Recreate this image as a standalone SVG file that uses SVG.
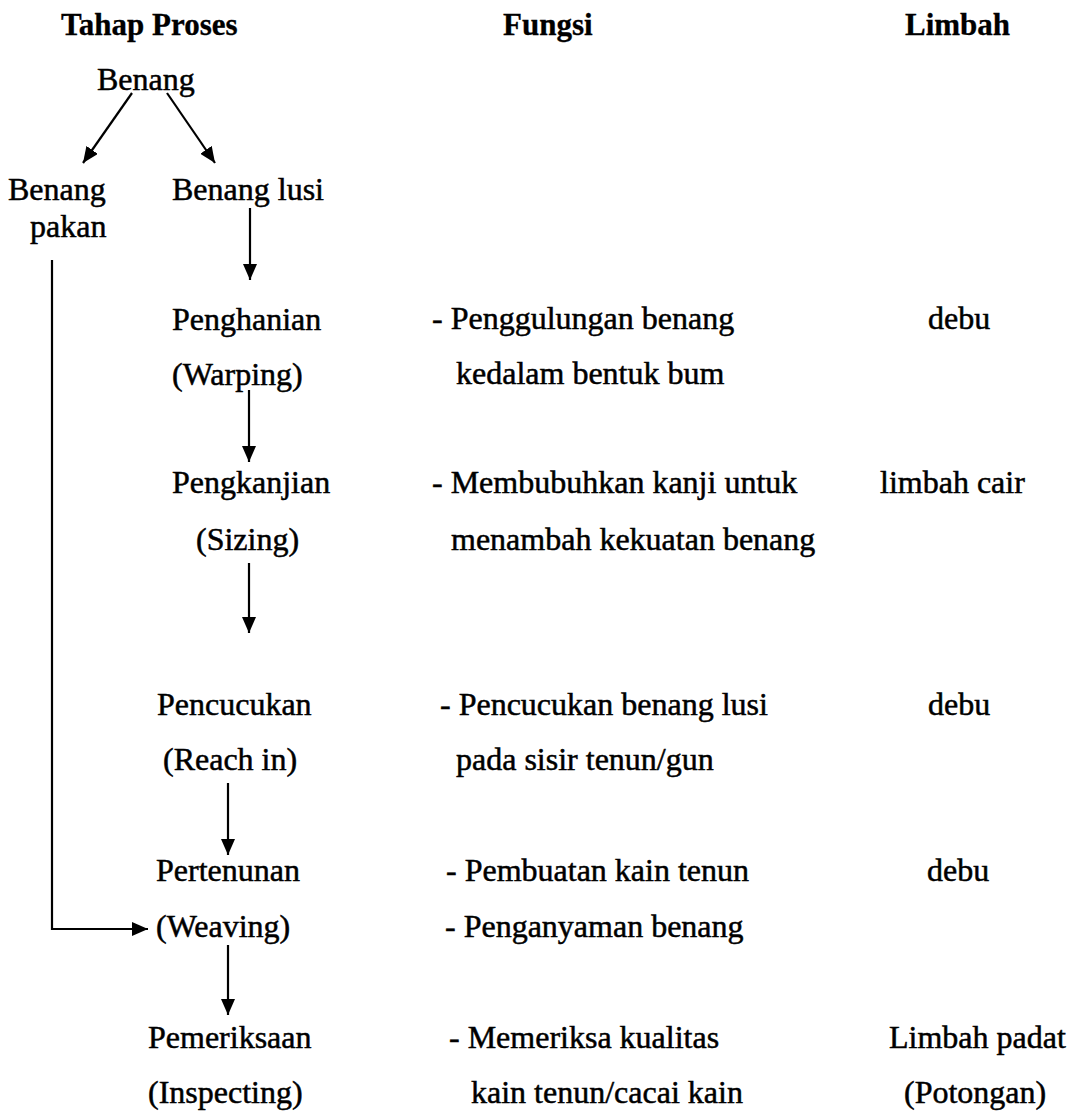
<svg xmlns="http://www.w3.org/2000/svg" width="1072" height="1111" viewBox="0 0 1072 1111">
<style>
text{font-family:"Liberation Serif","Times New Roman",serif;font-size:32px;fill:#000;stroke:#000;stroke-width:0.5}
.h{font-weight:bold;font-size:31px;stroke-width:0.3}
.c{fill:none;stroke:#000;stroke-width:2.2}
</style>
<defs>
<marker id="ah" viewBox="0 0 16 14" refX="16" refY="7" markerWidth="16" markerHeight="14" orient="auto" markerUnits="userSpaceOnUse">
<path d="M0,0 L16,7 L0,14 Z" fill="#000"/>
</marker>
</defs>
<rect width="1072" height="1111" fill="#fff"/>
<g id="headers">
<text class="h" x="61" y="35">Tahap Proses</text>
<text class="h" x="503" y="35">Fungsi</text>
<text class="h" x="905" y="35">Limbah</text>
</g>
<g id="n-benang"><text x="97" y="90">Benang</text></g>
<g id="n-pakan"><text x="8" y="200">Benang</text><text x="30" y="237">pakan</text></g>
<g id="n-lusi"><text x="172" y="200">Benang lusi</text></g>
<g id="n-warping">
<text x="172" y="330">Penghanian</text><text x="172" y="385">(Warping)</text>
<text x="432" y="329">- Penggulungan benang</text><text x="456" y="384">kedalam bentuk bum</text>
<text x="928" y="329">debu</text>
</g>
<g id="n-sizing">
<text x="172" y="493">Pengkanjian</text><text x="196" y="550">(Sizing)</text>
<text x="432" y="493">- Membubuhkan kanji untuk</text><text x="451" y="550">menambah kekuatan benang</text>
<text x="880" y="493">limbah cair</text>
</g>
<g id="n-reach">
<text x="157" y="715">Pencucukan</text><text x="163" y="770">(Reach in)</text>
<text x="440" y="715">- Pencucukan benang lusi</text><text x="456" y="770">pada sisir tenun/gun</text>
<text x="928" y="715">debu</text>
</g>
<g id="n-weaving">
<text x="156" y="881">Pertenunan</text><text x="156" y="937">(Weaving)</text>
<text x="446" y="881">- Pembuatan kain tenun</text><text x="445" y="937">- Penganyaman benang</text>
<text x="927" y="881">debu</text>
</g>
<g id="n-inspecting">
<text x="148" y="1048">Pemeriksaan</text><text x="148" y="1103">(Inspecting)</text>
<text x="449" y="1048">- Memeriksa kualitas</text><text x="471" y="1103">kain tenun/cacai kain</text>
<text x="889" y="1048">Limbah padat</text><text x="904" y="1103">(Potongan)</text>
</g>
<g id="connectors">
<line class="c" x1="132" y1="93" x2="83" y2="163" marker-end="url(#ah)"/>
<line class="c" x1="167" y1="93" x2="215" y2="163" marker-end="url(#ah)"/>
<line class="c" x1="250" y1="208" x2="250" y2="280" marker-end="url(#ah)"/>
<line class="c" x1="249" y1="390" x2="249" y2="462" marker-end="url(#ah)"/>
<line class="c" x1="249" y1="563" x2="249" y2="633" marker-end="url(#ah)"/>
<line class="c" x1="228" y1="783" x2="228" y2="855" marker-end="url(#ah)"/>
<line class="c" x1="228" y1="945" x2="228" y2="1015" marker-end="url(#ah)"/>
<path class="c" d="M52,260 V929 H148" marker-end="url(#ah)"/>
</g>
</svg>
